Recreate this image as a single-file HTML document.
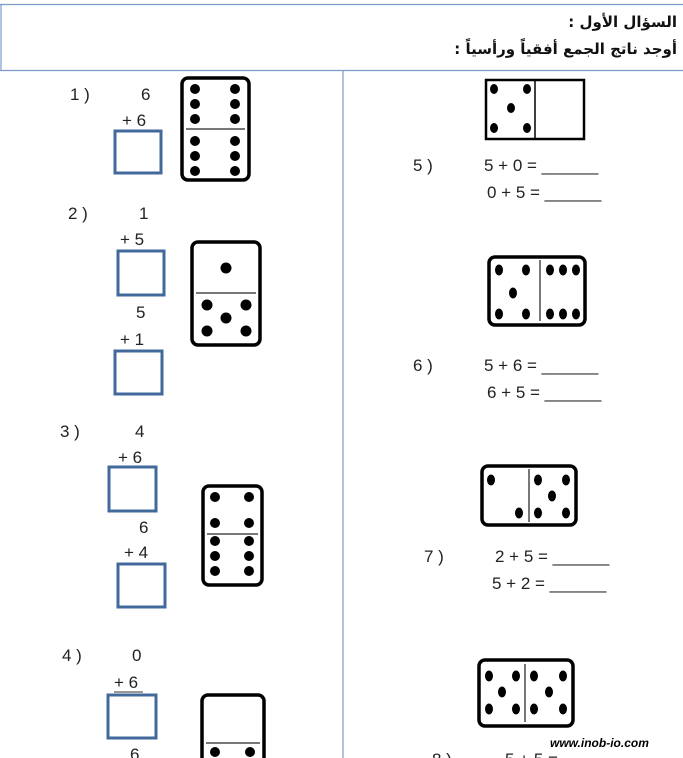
<!DOCTYPE html>
<html><head><meta charset="utf-8"><style>
html,body{margin:0;padding:0;background:#fff;width:683px;height:758px;overflow:hidden;position:relative}
svg{display:block}
text{font-family:"Liberation Sans","DejaVu Sans",sans-serif;fill:#222;font-size:17px}
.ar{position:absolute;right:6px;direction:rtl;text-align:right;font-family:"DejaVu Sans",sans-serif;font-weight:bold;font-size:15px;color:#111;line-height:27px;top:9px;white-space:nowrap}
.dom{fill:#fff;stroke:#000;stroke-width:3.5}
.dv{stroke:#777;stroke-width:2}
.bx{fill:none;stroke:#41699b;stroke-width:3}
</style></head><body>
<div class="ar">السؤال الأول :<br>أوجد ناتج الجمع أفقياً ورأسياً :</div>
<svg width="683" height="758" viewBox="0 0 683 758" xmlns="http://www.w3.org/2000/svg">
<line x1="0" y1="4.5" x2="683" y2="4.5" stroke="#7a9cc8" stroke-width="1.2"/>
<line x1="1" y1="4" x2="1" y2="70" stroke="#7a9cc8" stroke-width="1.2"/>
<line x1="0" y1="70.5" x2="683" y2="70.5" stroke="#7a9cc8" stroke-width="1.2"/>
<line x1="343" y1="70" x2="343" y2="758" stroke="#7a9cc8" stroke-width="1.2"/>

<text x="70" y="100">1 )</text>
<text x="141" y="100">6</text>
<text x="122" y="126">+ 6</text>
<rect class="bx" x="115" y="131" width="46" height="42"/>
<rect class="dom" x="182" y="78" width="67" height="102" rx="6"/>
<line class="dv" x1="186" y1="129" x2="245" y2="129"/>
<g fill="#000">
<circle cx="195" cy="89" r="5"/><circle cx="235" cy="89" r="5"/>
<circle cx="195" cy="104" r="5"/><circle cx="235" cy="104" r="5"/>
<circle cx="195" cy="119" r="5"/><circle cx="235" cy="119" r="5"/>
<circle cx="195" cy="141" r="5"/><circle cx="235" cy="141" r="5"/>
<circle cx="195" cy="156" r="5"/><circle cx="235" cy="156" r="5"/>
<circle cx="195" cy="171" r="5"/><circle cx="235" cy="171" r="5"/>
</g>

<text x="68" y="219">2 )</text>
<text x="139" y="219">1</text>
<text x="120" y="245">+ 5</text>
<rect class="bx" x="118" y="251" width="46" height="44"/>
<text x="136" y="318">5</text>
<text x="120" y="345">+ 1</text>
<rect class="bx" x="115" y="351" width="47" height="43"/>
<rect class="dom" x="192" y="242" width="68" height="103" rx="6"/>
<line class="dv" x1="196" y1="293" x2="256" y2="293"/>
<g fill="#000">
<circle cx="226" cy="268" r="5.5"/>
<circle cx="207" cy="305" r="5.5"/><circle cx="246" cy="305" r="5.5"/>
<circle cx="226" cy="318" r="5.5"/>
<circle cx="207" cy="331" r="5.5"/><circle cx="246" cy="331" r="5.5"/>
</g>

<text x="60" y="437">3 )</text>
<text x="135" y="437">4</text>
<text x="118" y="463">+ 6</text>
<rect class="bx" x="109" y="467" width="47" height="44"/>
<text x="139" y="533">6</text>
<text x="124" y="558">+ 4</text>
<rect class="bx" x="118" y="564" width="47" height="43"/>
<rect class="dom" x="203" y="486" width="59" height="99" rx="6"/>
<line class="dv" x1="207" y1="534" x2="258" y2="534"/>
<g fill="#000">
<circle cx="215" cy="497" r="5"/><circle cx="249" cy="497" r="5"/>
<circle cx="215" cy="523" r="5"/><circle cx="249" cy="523" r="5"/>
<circle cx="215" cy="541" r="5"/><circle cx="249" cy="541" r="5"/>
<circle cx="215" cy="556" r="5"/><circle cx="249" cy="556" r="5"/>
<circle cx="215" cy="571" r="5"/><circle cx="249" cy="571" r="5"/>
</g>

<text x="62" y="661">4 )</text>
<text x="132" y="661">0</text>
<text x="114" y="688">+ 6</text>
<line x1="114" y1="692" x2="143" y2="692" stroke="#333" stroke-width="1"/>
<rect class="bx" x="108" y="695" width="48" height="43"/>
<text x="130" y="760">6</text>
<rect class="dom" x="202" y="695" width="62" height="80" rx="6"/>
<line class="dv" x1="206" y1="743" x2="260" y2="743"/>
<g fill="#000"><circle cx="215" cy="752" r="5"/><circle cx="250" cy="752" r="5"/></g>

<rect x="486" y="80" width="98" height="59" fill="#fff" stroke="#000" stroke-width="2.5"/>
<line x1="535" y1="80" x2="535" y2="139" stroke="#000" stroke-width="1.5"/>
<g fill="#000">
<ellipse cx="494" cy="89" rx="4" ry="5"/><ellipse cx="527" cy="89" rx="4" ry="5"/>
<ellipse cx="511" cy="108" rx="4" ry="5"/>
<ellipse cx="494" cy="128" rx="4" ry="5"/><ellipse cx="527" cy="128" rx="4" ry="5"/>
</g>
<text x="413" y="171">5 )</text>
<text x="484" y="171">5 + 0 = ______</text>
<text x="487" y="198">0 + 5 = ______</text>

<rect class="dom" x="489" y="257" width="96" height="68" rx="6"/>
<line class="dv" x1="540" y1="260" x2="540" y2="321"/>
<g fill="#000">
<ellipse cx="499" cy="270" rx="4" ry="5.5"/><ellipse cx="526" cy="270" rx="4" ry="5.5"/>
<ellipse cx="513" cy="293" rx="4" ry="5.5"/>
<ellipse cx="499" cy="314" rx="4" ry="5.5"/><ellipse cx="526" cy="314" rx="4" ry="5.5"/>
<ellipse cx="550" cy="270" rx="4" ry="5.5"/><ellipse cx="563" cy="270" rx="4" ry="5.5"/><ellipse cx="576" cy="270" rx="4" ry="5.5"/>
<ellipse cx="550" cy="314" rx="4" ry="5.5"/><ellipse cx="563" cy="314" rx="4" ry="5.5"/><ellipse cx="576" cy="314" rx="4" ry="5.5"/>
</g>
<text x="413" y="371">6 )</text>
<text x="484" y="371">5 + 6 = ______</text>
<text x="487" y="398">6 + 5 = ______</text>

<rect class="dom" x="482" y="466" width="94" height="59" rx="6"/>
<line class="dv" x1="529" y1="469" x2="529" y2="522"/>
<g fill="#000">
<ellipse cx="491" cy="480" rx="4" ry="5.5"/><ellipse cx="519" cy="513" rx="4" ry="5.5"/>
<ellipse cx="538" cy="480" rx="4" ry="5.5"/><ellipse cx="566" cy="480" rx="4" ry="5.5"/>
<ellipse cx="552" cy="496" rx="4" ry="5.5"/>
<ellipse cx="538" cy="513" rx="4" ry="5.5"/><ellipse cx="566" cy="513" rx="4" ry="5.5"/>
</g>
<text x="424" y="562">7 )</text>
<text x="495" y="562">2 + 5 = ______</text>
<text x="492" y="589">5  + 2 = ______</text>

<rect class="dom" x="479" y="660" width="94" height="66" rx="6"/>
<line class="dv" x1="525" y1="664" x2="525" y2="722"/>
<g fill="#000">
<ellipse cx="489" cy="676" rx="4" ry="5.5"/><ellipse cx="516" cy="676" rx="4" ry="5.5"/>
<ellipse cx="502" cy="692" rx="4" ry="5.5"/>
<ellipse cx="489" cy="709" rx="4" ry="5.5"/><ellipse cx="516" cy="709" rx="4" ry="5.5"/>
<ellipse cx="534" cy="676" rx="4" ry="5.5"/><ellipse cx="563" cy="676" rx="4" ry="5.5"/>
<ellipse cx="549" cy="692" rx="4" ry="5.5"/>
<ellipse cx="534" cy="709" rx="4" ry="5.5"/><ellipse cx="563" cy="709" rx="4" ry="5.5"/>
</g>
<text x="550" y="747" style="font-size:12px;font-weight:bold;font-style:italic;fill:#000">www.inob-io.com</text>
<text x="432" y="765">8 )</text>
<text x="505" y="765">5 + 5 =</text>
</svg>
</body></html>
